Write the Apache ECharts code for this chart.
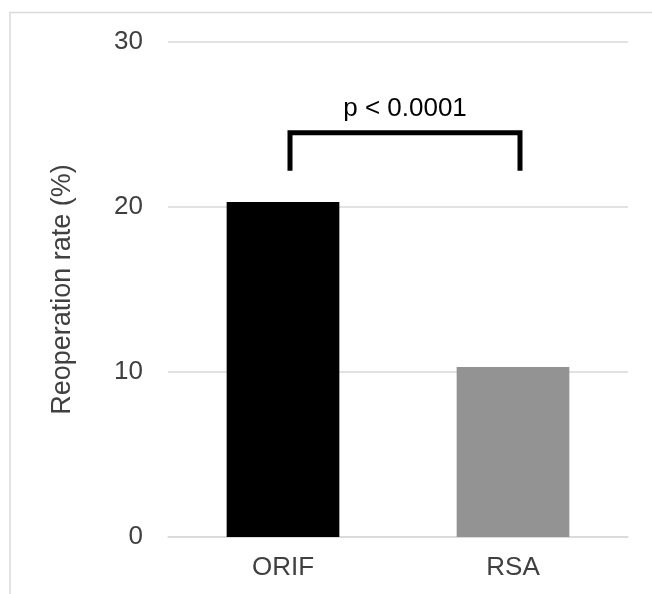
<!DOCTYPE html>
<html>
<head>
<meta charset="utf-8">
<script src="https://cdn.jsdelivr.net/npm/echarts@6/dist/echarts.min.js"></script>
<style>
html,body{margin:0;padding:0;background:#fff;}
#chart{width:652px;height:594px;}
</style>
</head>
<body>
<div id="chart"></div>
<script>
const categories = ['ORIF', 'RSA'];
const reoperationRate = [20.3, 10.3];
const barColors = ['#000000', '#939393'];
const yTicks = [0, 10, 20, 30];
const yAxisName = 'Reoperation rate (%)';
const pLabel = 'p < 0.0001';
const bracketTop = 24.5;
const bracketBottom = 22.2;

const FONT = '"Liberation Sans", Arial, sans-serif';
const chart = echarts.init(document.getElementById('chart'));

chart.setOption({
  animation: false,
  backgroundColor: '#ffffff',
  graphic: [{
    type: 'rect',
    shape: { x: 10, y: 12.5, width: 800, height: 800 },
    style: { fill: 'none', stroke: '#d9d9d9', lineWidth: 1.5 },
    z: -10
  }],
  grid: { left: 168, right: 24, top: 42, bottom: 57, containLabel: false },
  xAxis: {
    type: 'category',
    data: categories,
    axisLine: { show: true, lineStyle: { color: '#d9d9d9', width: 1.5 } },
    axisTick: { show: false },
    axisLabel: { color: '#404040', fontSize: 26, fontFamily: FONT, margin: 18 }
  },
  yAxis: {
    type: 'value',
    min: yTicks[0],
    max: yTicks[yTicks.length - 1],
    interval: 10,
    name: yAxisName,
    nameLocation: 'middle',
    nameGap: 92,
    nameRotate: 90,
    nameTextStyle: { color: '#404040', fontSize: 27, fontFamily: FONT },
    axisLine: { show: false },
    axisTick: { show: false },
    splitLine: { lineStyle: { color: '#d9d9d9', width: 1.5 } },
    axisLabel: { color: '#404040', fontSize: 26, fontFamily: FONT, margin: 25 }
  },
  series: [{
    type: 'bar',
    data: reoperationRate.map((v, i) => ({ value: v, itemStyle: { color: barColors[i] } })),
    barWidth: '49%'
  }, {
    type: 'custom',
    coordinateSystem: 'cartesian2d',
    data: [[0, 1, bracketTop, bracketBottom]],
    renderItem: function (params, api) {
      const a = api.coord([api.value(0), api.value(2)]);
      const b = api.coord([api.value(1), api.value(2)]);
      const bottom = api.coord([api.value(0), api.value(3)])[1];
      const off = 7;
      const x1 = a[0] + off, x2 = b[0] + off, y = a[1];
      return {
        type: 'group',
        children: [{
          type: 'polyline',
          shape: { points: [[x1, bottom], [x1, y], [x2, y], [x2, bottom]] },
          style: { stroke: '#000', lineWidth: 5, fill: 'none', lineJoin: 'miter', lineCap: 'butt' }
        }, {
          type: 'text',
          style: {
            text: pLabel,
            x: (x1 + x2) / 2,
            y: y - 11,
            align: 'center',
            verticalAlign: 'bottom',
            fill: '#000',
            fontSize: 26,
            fontFamily: FONT
          }
        }]
      };
    },
    z: 5
  }]
});
</script>
</body>
</html>
